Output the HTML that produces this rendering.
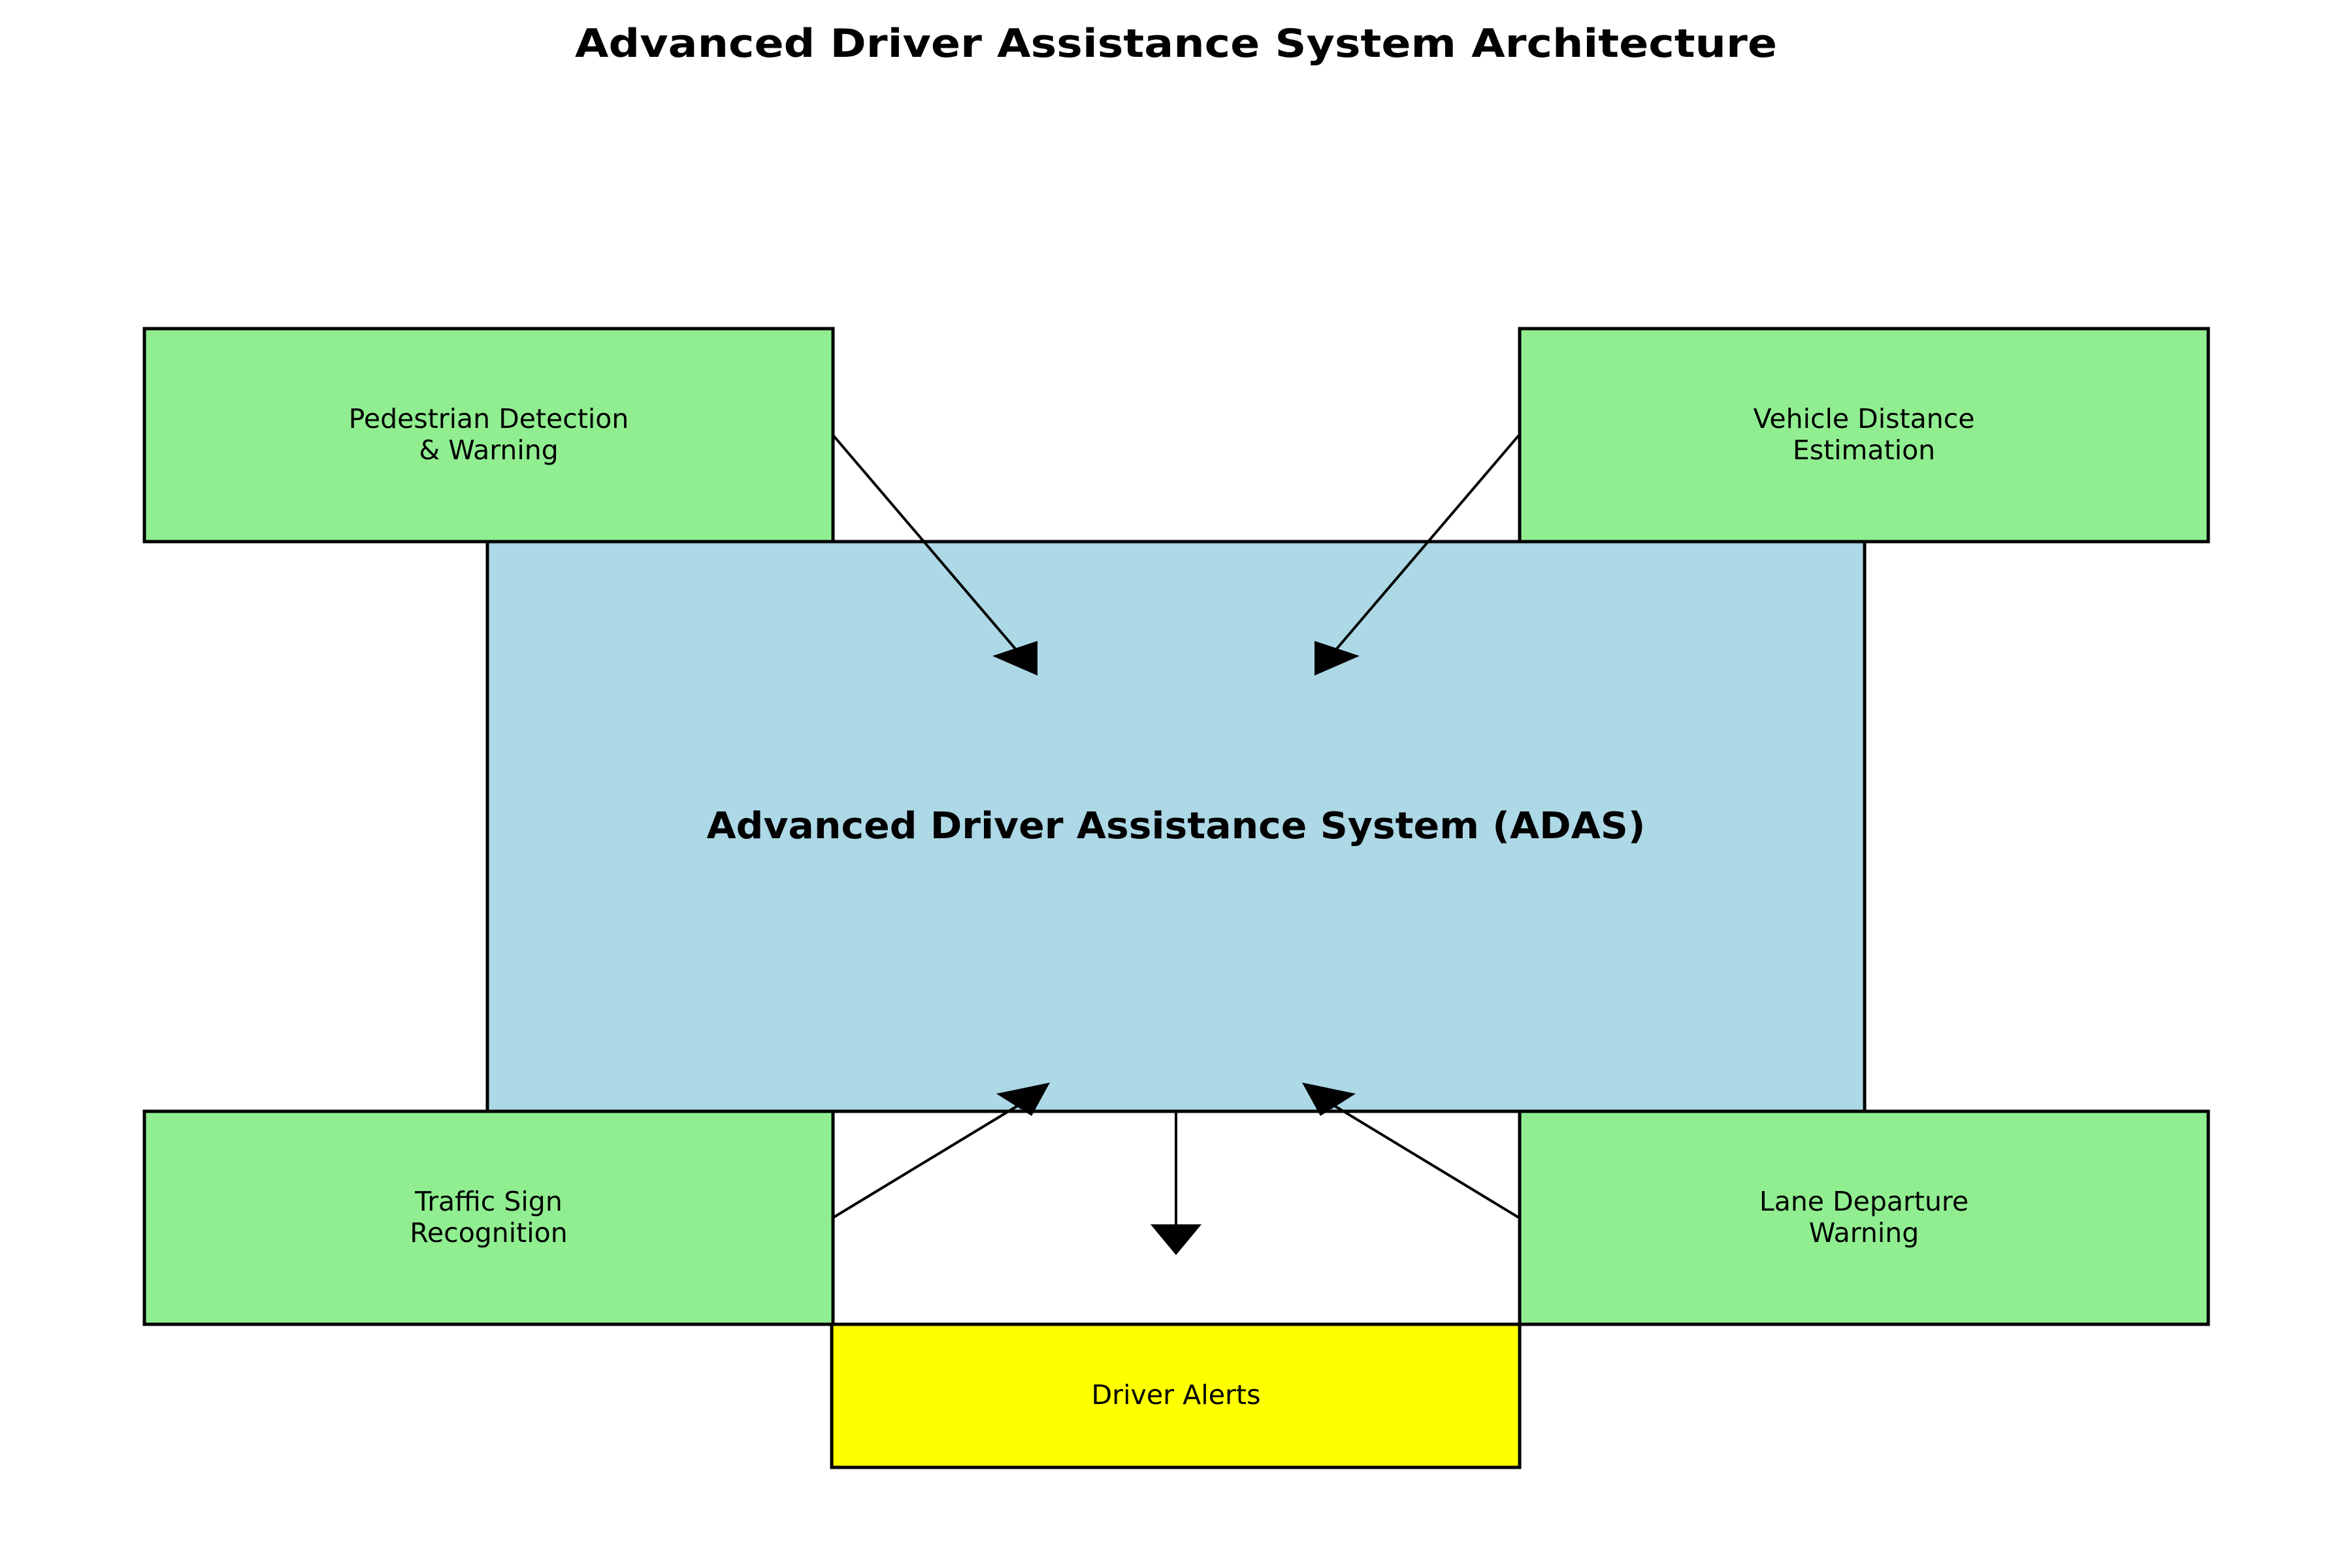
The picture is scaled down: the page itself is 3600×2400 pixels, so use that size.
<!DOCTYPE html>
<html><head><meta charset="utf-8"><style>html,body{margin:0;padding:0;background:#fff}svg{display:block}</style></head>
<body>
<svg width="3600" height="2400" viewBox="0 0 3600 2400" xmlns="http://www.w3.org/2000/svg" font-family="'DejaVu Sans','Liberation Sans',sans-serif">
<rect width="3600" height="2400" fill="#fff"/>
<text x="1800" y="87" text-anchor="middle" font-size="60" font-weight="bold" textLength="1840" lengthAdjust="spacingAndGlyphs">Advanced Driver Assistance System Architecture</text>
<g stroke="#000" stroke-width="5">
<rect x="221" y="503" width="1054" height="326" fill="#90ee90"/>
<rect x="2326" y="503" width="1054" height="326" fill="#90ee90"/>
<rect x="746" y="829" width="2108" height="872" fill="#add8e6"/>
<rect x="221" y="1701" width="1054" height="326" fill="#90ee90"/>
<rect x="2326" y="1701" width="1054" height="326" fill="#90ee90"/>
<rect x="1273" y="2027" width="1053" height="219" fill="#ffff00"/>
</g>
<g stroke="#000" stroke-width="4" fill="none">
<line x1="1275" y1="666" x2="1560" y2="1000"/>
<line x1="2325" y1="666" x2="2040" y2="1000"/>
<line x1="1273" y1="1865" x2="1570" y2="1685"/>
<line x1="2327" y1="1865" x2="2030" y2="1685"/>
<line x1="1800" y1="1701" x2="1800" y2="1880"/>
</g>
<g fill="#000">
<polygon points="1588,981 1519,1004 1588,1034"/>
<polygon points="2012,981 2081,1004 2012,1034"/>
<polygon points="1607,1657 1525,1674 1579,1708"/>
<polygon points="1993,1657 2075,1674 2021,1708"/>
<polygon points="1761,1874 1839,1874 1800,1921"/>
</g>
<g font-size="41" text-anchor="middle">
<text x="748" y="655">Pedestrian Detection</text>
<text x="748" y="703">&amp; Warning</text>
<text x="2853" y="655">Vehicle Distance</text>
<text x="2853" y="703">Estimation</text>
<text x="748" y="1853">Traffic Sign</text>
<text x="748" y="1901">Recognition</text>
<text x="2853" y="1853">Lane Departure</text>
<text x="2853" y="1901">Warning</text>
<text x="1800" y="2149" textLength="259" lengthAdjust="spacingAndGlyphs">Driver Alerts</text>
</g>
<text x="1800" y="1283" text-anchor="middle" font-size="56" font-weight="bold" textLength="1437" lengthAdjust="spacingAndGlyphs">Advanced Driver Assistance System (ADAS)</text>
</svg>
</body></html>
